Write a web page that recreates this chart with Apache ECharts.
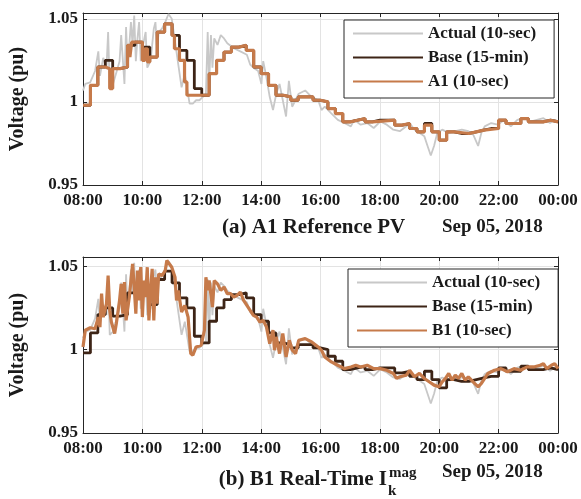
<!DOCTYPE html>
<html>
<head>
<meta charset="utf-8">
<script src="https://cdn.jsdelivr.net/npm/echarts@6/dist/echarts.min.js"></script>
<style>
  html, body { margin: 0; padding: 0; background: #fff; }
  #chart { width: 581px; height: 499px; }
</style>
</head>
<body>
<div id="chart"></div>
<script>
// x tick labels, one per 2 hours from 08:00 to 24:00
const hourLabels = ['08:00', '10:00', '12:00', '14:00', '16:00', '18:00', '20:00', '22:00', '00:00']
const voltLabels = { '0.95': '0.95', '1': '1', '1.05': '1.05' }

// Actual (10-sec) measured voltage, [hour, pu]
const actual = [
  [8.00, 1.0069], [8.077, 1.0108], [8.242, 1.0118], [8.407, 1.0186], [8.516, 1.0304], [8.571, 1.0157],
  [8.681, 1.0265], [8.791, 1.0206], [8.846, 1.0421], [8.901, 1.0088], [9.011, 1.0108], [9.121, 1.0176],
  [9.231, 1.0245], [9.286, 1.0402], [9.396, 1.0108], [9.451, 1.0451], [9.505, 1.0206], [9.615, 1.048],
  [9.670, 1.0343], [9.725, 1.052], [9.780, 1.0245], [9.835, 1.0382], [9.890, 1.048], [9.945, 1.0245],
  [10.00, 1.0323], [10.11, 1.0421], [10.165, 1.0206], [10.275, 1.0245], [10.385, 1.0441], [10.44, 1.048],
  [10.495, 1.0323], [10.55, 1.0421], [10.66, 1.0441], [10.77, 1.048], [10.88, 1.0529], [10.99, 1.050],
  [11.10, 1.0363], [11.21, 1.0225], [11.32, 1.0088], [11.43, 1.0167], [11.59, 0.999], [11.70, 0.999],
  [11.81, 1.001], [11.92, 1.001], [12.03, 1.0029], [12.14, 1.0049], [12.20, 1.0421], [12.25, 1.0108],
  [12.31, 1.0402], [12.36, 1.0206], [12.42, 1.0382], [12.53, 1.0343], [12.64, 1.0402], [12.75, 1.0382],
  [12.86, 1.0353], [13.08, 1.0323], [13.30, 1.0304], [13.52, 1.0284], [13.63, 1.0225], [13.74, 1.0206],
  [13.90, 1.0186], [14.01, 1.0108], [14.07, 1.0245], [14.18, 1.0147], [14.29, 1.0029], [14.40, 0.9951],
  [14.51, 1.0049], [14.62, 1.0108], [14.73, 1.001], [14.84, 0.9912], [14.935, 1.0127], [15.045, 0.9971],
  [15.265, 1.0049], [15.484, 1.0069], [15.704, 1.0029], [15.924, 1.001], [16.034, 0.9951], [16.144, 0.9971],
  [16.364, 0.9931], [16.583, 0.9892], [16.803, 0.9873], [17.023, 0.9853], [17.133, 0.9892], [17.353, 0.9863],
  [17.572, 0.9873], [17.792, 0.9843], [18.012, 0.9882], [18.232, 0.9863], [18.452, 0.9833], [18.671, 0.9824],
  [18.891, 0.9853], [19.001, 0.9873], [19.166, 0.9833], [19.331, 0.9814], [19.496, 0.9794], [19.606, 0.9735],
  [19.715, 0.9677], [19.825, 0.9735], [19.935, 0.9814], [20.10, 0.9833], [20.32, 0.9814], [20.54, 0.9824],
  [20.76, 0.9833], [20.98, 0.9824], [21.14, 0.9804], [21.31, 0.9735], [21.42, 0.9814], [21.53, 0.9853],
  [21.75, 0.9873], [21.97, 0.9863], [22.19, 0.9892], [22.41, 0.9853], [22.63, 0.9892], [22.85, 0.9902],
  [23.07, 0.9882], [23.29, 0.9892], [23.51, 0.9902], [23.73, 0.9873], [23.89, 0.9892], [24.00, 0.9882]
]

// Base (15-min) values, one every 15 min from 08:00 to 24:00
const base = [
  0.998, 1.010, 1.021, 1.025, 1.020, 1.021, 1.034, 1.036,
  1.033, 1.027, 1.042, 1.047, 1.040, 1.031, 1.025, 1.008,
  1.004, 1.017, 1.025, 1.030, 1.033, 1.034, 1.031, 1.021,
  1.017, 1.010, 1.004, 1.003, 1.001, 1.003, 1.003, 1.001,
  1.000, 0.996, 0.993, 0.988, 0.989, 0.990, 0.988, 0.989,
  0.989, 0.989, 0.986, 0.987, 0.984, 0.982, 0.987, 0.982,
  0.977, 0.982, 0.981, 0.981, 0.982, 0.983, 0.984, 0.984,
  0.989, 0.987, 0.987, 0.990, 0.988, 0.988, 0.989, 0.988,
  0.988
]

// A1 (10-sec) estimate, [hour, pu], held until the next point
const a1 = [
  [8.00, 0.998], [8.25, 1.010], [8.50, 1.021], [8.75, 1.020], [8.90, 1.008], [9.00, 1.020],
  [9.25, 1.021], [9.50, 1.034], [9.58, 1.027], [9.64, 1.036], [10.00, 1.025], [10.08, 1.032],
  [10.17, 1.024], [10.25, 1.027], [10.50, 1.042], [10.75, 1.047], [11.00, 1.040], [11.08, 1.032],
  [11.25, 1.025], [11.42, 1.012], [11.50, 1.004], [12.25, 1.017], [12.50, 1.025], [12.75, 1.030],
  [13.00, 1.033], [13.25, 1.034], [13.50, 1.031], [13.75, 1.021], [14.00, 1.017], [14.25, 1.010],
  [14.50, 1.004], [14.75, 1.003], [15.00, 1.001], [15.25, 1.003], [15.75, 1.001], [16.00, 1.000],
  [16.25, 0.996], [16.50, 0.993], [16.75, 0.988], [17.00, 0.989], [17.25, 0.990], [17.50, 0.988],
  [17.75, 0.989], [18.50, 0.986], [18.75, 0.987], [19.00, 0.984], [19.25, 0.982], [19.50, 0.986],
  [19.75, 0.982], [20.00, 0.977], [20.25, 0.982], [20.50, 0.981], [21.00, 0.982], [21.25, 0.983],
  [21.50, 0.984], [22.00, 0.989], [22.25, 0.987], [22.75, 0.990], [23.00, 0.988], [23.50, 0.989],
  [23.75, 0.988], [24.00, 0.988]
]

// B1 (10-sec) estimate, [hour, pu]
const b1 = [
  [8.00, 1.0016], [8.077, 1.0116], [8.242, 1.0131], [8.407, 1.0125], [8.516, 1.0195], [8.571, 1.0135],
  [8.626, 1.0335], [8.681, 1.0195], [8.791, 1.0275], [8.846, 1.0444], [8.901, 1.0235], [8.956, 1.0165],
  [9.066, 1.0096], [9.121, 1.0155], [9.231, 1.0295], [9.286, 1.0394], [9.341, 1.0215], [9.396, 1.0404],
  [9.451, 1.0175], [9.560, 1.0315], [9.670, 1.0514], [9.725, 1.0375], [9.780, 1.0215], [9.835, 1.0474],
  [9.890, 1.0295], [9.945, 1.0494], [10.00, 1.0195], [10.055, 1.0414], [10.11, 1.0315], [10.165, 1.0494],
  [10.22, 1.0175], [10.275, 1.0355], [10.33, 1.0484], [10.385, 1.0175], [10.44, 1.0434], [10.495, 1.0275],
  [10.55, 1.0454], [10.66, 1.0444], [10.77, 1.0474], [10.824, 1.0534], [10.88, 1.0544], [10.99, 1.0494],
  [11.10, 1.0434], [11.15, 1.0295], [11.21, 1.0355], [11.32, 1.0225], [11.43, 1.0265], [11.54, 1.0195],
  [11.63, 0.9976], [11.70, 0.9966], [11.81, 1.0016], [11.98, 1.0026], [12.09, 1.0116], [12.14, 1.0434],
  [12.20, 1.0355], [12.25, 1.0414], [12.36, 1.0255], [12.42, 1.0414], [12.53, 1.0394], [12.64, 1.0355],
  [12.75, 1.0375], [12.86, 1.0335], [12.97, 1.0335], [13.08, 1.0315], [13.19, 1.0325], [13.30, 1.0345],
  [13.41, 1.0295], [13.63, 1.0235], [13.74, 1.0205], [13.85, 1.0195], [13.96, 1.0165], [14.07, 1.0175],
  [14.18, 1.0135], [14.29, 1.0036], [14.40, 1.0116], [14.45, 0.9996], [14.51, 1.0076], [14.62, 0.9976],
  [14.73, 1.0096], [14.84, 0.9956], [14.95, 1.0056], [15.05, 0.9996], [15.16, 0.9976], [15.265, 1.0056],
  [15.484, 1.0066], [15.704, 1.0046], [15.924, 1.0016], [16.034, 0.9996], [16.144, 0.9956], [16.364, 0.9926],
  [16.583, 0.9906], [16.803, 0.9886], [17.023, 0.9896], [17.188, 0.9906], [17.353, 0.9896], [17.572, 0.9906],
  [17.792, 0.9886], [18.012, 0.9886], [18.232, 0.9876], [18.452, 0.9857], [18.561, 0.9827], [18.671, 0.9837],
  [18.891, 0.9847], [19.001, 0.9876], [19.166, 0.9837], [19.331, 0.9857], [19.496, 0.9827], [19.66, 0.9807],
  [19.825, 0.9787], [19.99, 0.9777], [20.10, 0.9807], [20.21, 0.9827], [20.32, 0.9857], [20.43, 0.9817],
  [20.54, 0.9847], [20.65, 0.9827], [20.76, 0.9857], [20.87, 0.9817], [20.98, 0.9837], [21.14, 0.9807],
  [21.31, 0.9777], [21.42, 0.9797], [21.53, 0.9827], [21.64, 0.9857], [21.86, 0.9876], [22.08, 0.9886],
  [22.30, 0.9867], [22.52, 0.9886], [22.74, 0.9876], [22.96, 0.9896], [23.18, 0.9896], [23.40, 0.9906],
  [23.51, 0.9916], [23.62, 0.9886], [23.78, 0.9906], [23.89, 0.9916], [24.00, 0.9886]
]

const FONT = 'Liberation Serif'
const TXT = '#1a1a1a'
const AXIS = '#262626'
const C_ACT = '#c8c8c8'
const C_BASE = '#3d2416'
const C_EST = '#c67a4a'

const basePts = base.map((v, i) => [8 + i / 4, v])

function xAxes(grid) {
  return [
    {
      type: 'value', gridIndex: grid, min: 8, max: 24, interval: 2,
      axisLine: { lineStyle: { color: AXIS } },
      axisTick: { inside: true, length: 4, lineStyle: { color: AXIS } },
      axisLabel: {
        margin: 7, color: TXT, fontFamily: FONT, fontWeight: 'bold', fontSize: 17,
        formatter: v => hourLabels[Math.round((v - 8) / 2)]
      },
      splitLine: { lineStyle: { color: '#e3e3e3' } }
    },
    {
      type: 'value', gridIndex: grid, position: 'top', min: 8, max: 24, interval: 2,
      axisLine: { lineStyle: { color: AXIS } },
      axisTick: { inside: true, length: 4, lineStyle: { color: AXIS } },
      axisLabel: { show: false },
      splitLine: { show: false }
    }
  ]
}

function yAxes(grid, max) {
  return [
    {
      type: 'value', gridIndex: grid, min: 0.95, max: max, interval: 0.05,
      name: 'Voltage (pu)', nameLocation: 'middle', nameGap: 55,
      nameTextStyle: { color: TXT, fontFamily: FONT, fontWeight: 'bold', fontSize: 20 },
      axisLine: { show: true, lineStyle: { color: AXIS } },
      axisTick: { show: true, inside: true, length: 4, lineStyle: { color: AXIS } },
      axisLabel: {
        margin: 5, color: TXT, fontFamily: FONT, fontWeight: 'bold', fontSize: 17,
        formatter: v => voltLabels[String(Math.round(v * 100) / 100)] || '',
        showMaxLabel: false
      },
      splitLine: { lineStyle: { color: '#e3e3e3' } }
    },
    {
      type: 'value', gridIndex: grid, position: 'right', min: 0.95, max: max, interval: 0.05,
      axisLine: { show: true, lineStyle: { color: AXIS } },
      axisTick: { show: true, inside: true, length: 4, lineStyle: { color: AXIS } },
      axisLabel: { show: false },
      splitLine: { show: false }
    }
  ]
}

function line(name, data, grid, color, width, step) {
  return {
    name: name, type: 'line', data: data,
    xAxisIndex: grid * 2, yAxisIndex: grid * 2,
    step: step ? 'end' : false,
    symbol: 'none', showSymbol: false, silent: true,
    lineStyle: { color: color, width: width },
    itemStyle: { color: color }
  }
}

function legendFor(names, left, top) {
  return {
    orient: 'vertical', left: left, top: top, data: names,
    itemWidth: 70, itemHeight: 14, itemGap: 7,
    padding: [5, 18, 8, 8],
    borderColor: AXIS, borderWidth: 1, backgroundColor: '#fff',
    selectedMode: false,
    itemStyle: { opacity: 0, borderWidth: 0 },
    textStyle: { color: TXT, fontFamily: FONT, fontWeight: 'bold', fontSize: 17 }
  }
}

const chart = echarts.init(document.getElementById('chart'))
const capStyle = { fill: TXT, fontFamily: FONT, fontWeight: 'bold', fontSize: 21 }

chart.setOption({
  animation: false,
  backgroundColor: '#fff',
  grid: [
    { left: 73, right: 23, top: 13, height: 172 },
    { left: 73, right: 23, top: 257, height: 176 }
  ],
  xAxis: [...xAxes(0), ...xAxes(1)],
  yAxis: [...yAxes(0, 1.0535), ...yAxes(1, 1.0555)],
  legend: [
    legendFor(['Actual (10-sec)', 'Base (15-min)', 'A1 (10-sec)'], 344, 20),
    legendFor(['Actual (10-sec)', 'Base (15-min)', 'B1 (10-sec)'], 348, 269)
  ],
  series: [
    line('Actual (10-sec)', actual, 0, C_ACT, 1.8, false),
    line('Base (15-min)', basePts, 0, C_BASE, 2.8, true),
    line('A1 (10-sec)', a1, 0, C_EST, 3.2, true),
    line('Actual (10-sec)', actual, 1, C_ACT, 1.8, false),
    line('Base (15-min)', basePts, 1, C_BASE, 2.8, true),
    line('B1 (10-sec)', b1, 1, C_EST, 3.2, false)
  ],
  graphic: [
    { type: 'text', left: 222, top: 217, style: Object.assign({ text: '(a) A1 Reference PV' }, capStyle) },
    { type: 'text', left: 442, top: 218, style: Object.assign({ text: 'Sep 05, 2018' }, capStyle, { fontSize: 19 }) },
    { type: 'text', x: 387, y: 480, style: Object.assign({ text: '(b) B1 Real-Time I', textAlign: 'right', textVerticalAlign: 'middle' }, capStyle) },
    { type: 'text', x: 389, y: 473, style: Object.assign({ text: 'mag', textVerticalAlign: 'middle' }, capStyle, { fontSize: 15 }) },
    { type: 'text', x: 388, y: 491, style: Object.assign({ text: 'k', textVerticalAlign: 'middle' }, capStyle, { fontSize: 15 }) },
    { type: 'text', left: 442, top: 463, style: Object.assign({ text: 'Sep 05, 2018' }, capStyle, { fontSize: 19 }) }
  ]
})
</script>
</body>
</html>
